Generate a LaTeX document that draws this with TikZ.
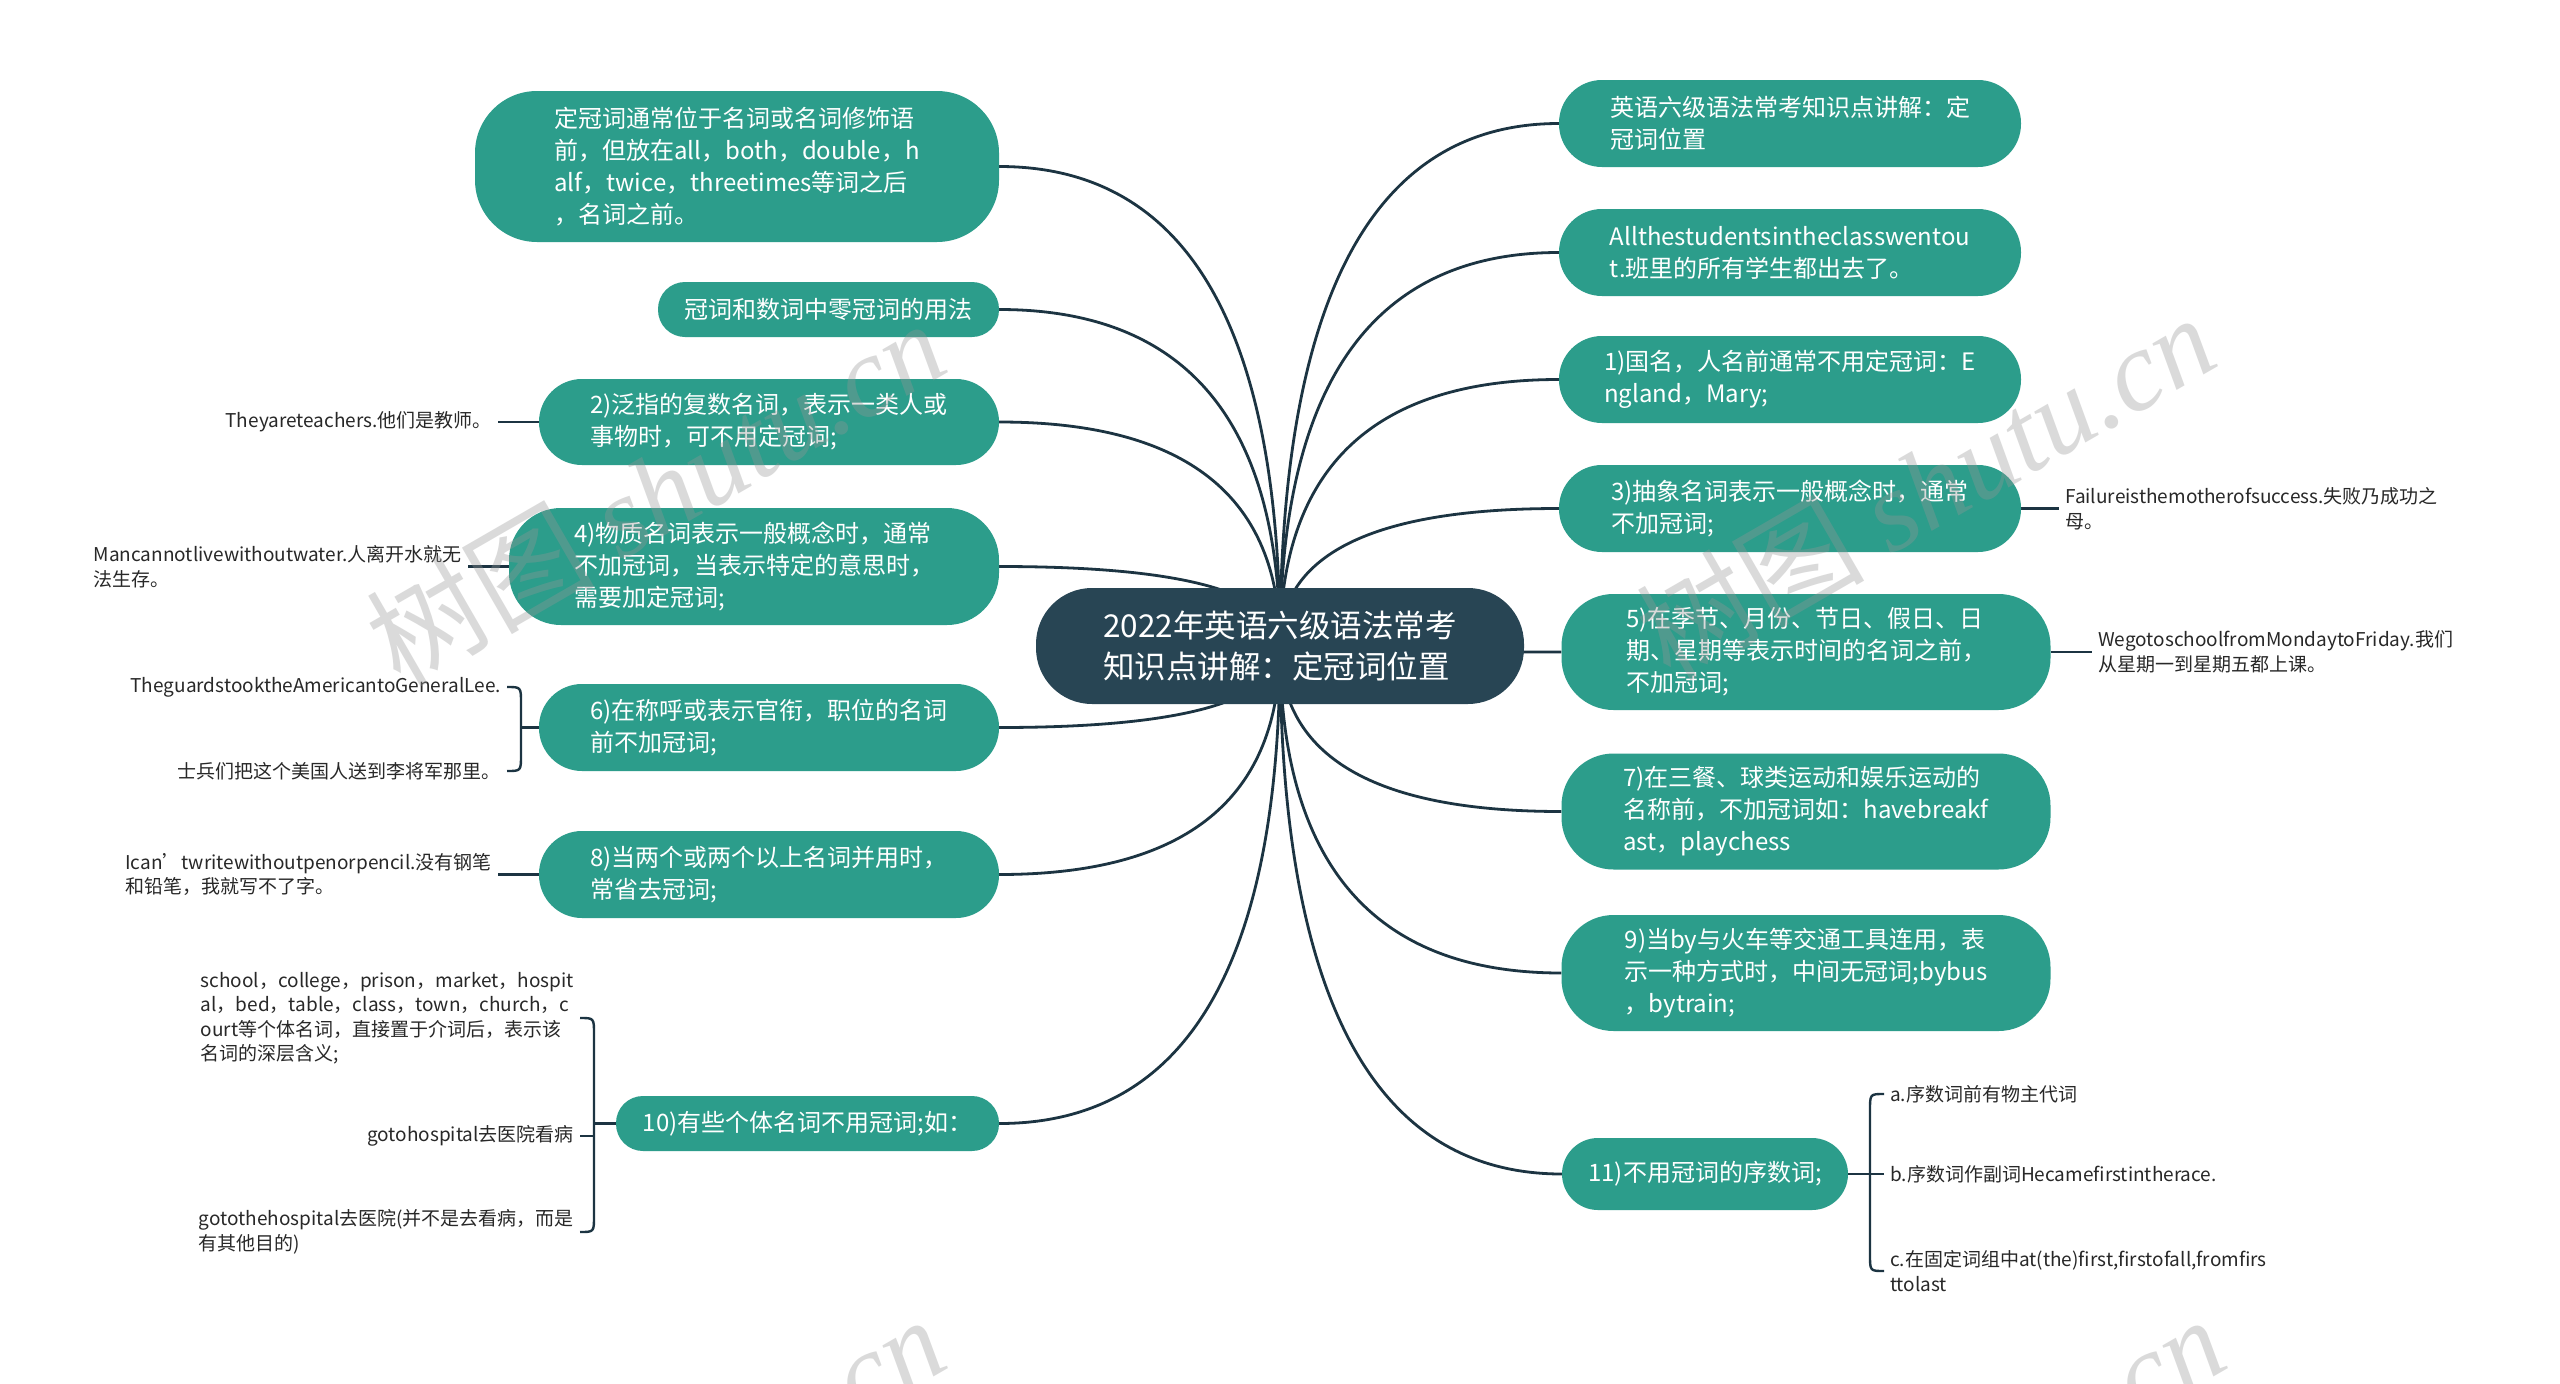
\documentclass[tikz,border=0pt]{standalone}
\usepackage{fontspec}
\setmainfont{Noto Sans CJK SC}
\newfontfamily\wmlatin{Liberation Serif}
\usetikzlibrary{calc,backgrounds}
\definecolor{teal1}{RGB}{44,157,139}
\definecolor{navy1}{RGB}{40,69,84}
\definecolor{line1}{RGB}{28,52,66}
\definecolor{leaftext}{RGB}{40,40,40}
\definecolor{wm}{RGB}{150,150,150}
\tikzset{
  topic/.style={fill=teal1, text=white, font=\fontsize{24}{32}\selectfont, align=left, inner sep=0pt},
  root/.style={fill=navy1, text=white, font=\fontsize{31.5}{41}\selectfont, align=left, inner sep=0pt,
    minimum width=488pt, minimum height=116pt, rounded corners=56pt},
  leaf/.style={text=leaftext, font=\fontsize{19}{24.5}\selectfont, align=left, inner xsep=6pt, inner ysep=2pt},
  conn/.style={draw=line1, line width=2.8pt},
  brk/.style={draw=line1, line width=2.4pt},
  wmark/.style={text=wm, opacity=0.35, rotate=30, font=\fontsize{114}{124}\selectfont},
}
\newcommand\wire[2]{\draw[conn] (#1.center) .. controls ($(#1.center)!0.667!(#1.center |- #2)$) and ($(#2)!0.667!(#1.center |- #2)$) .. (#2);}
\begin{document}
\begin{tikzpicture}[x=1pt,y=-1pt]
\useasboundingbox (0,0) rectangle (2560,1384);
% root
\node[root] (c) at (1280,646) {2022年英语六级语法常考\\知识点讲解：定冠词位置};
% right topics
\node[topic, minimum width=462pt, minimum height=87pt, rounded corners=43pt] (r1) at (1790,123.5) {英语六级语法常考知识点讲解：定\\冠词位置};
\node[topic, minimum width=462pt, minimum height=87pt, rounded corners=43pt] (r2) at (1790,252.5) {Allthestudentsintheclasswentou\\t.班里的所有学生都出去了。};
\node[topic, minimum width=462pt, minimum height=87pt, rounded corners=43pt] (r3) at (1790,379.5) {1)国名，人名前通常不用定冠词：E\\ngland，Mary;};
\node[topic, minimum width=462pt, minimum height=87pt, rounded corners=43pt] (r4) at (1790,508.5) {3)抽象名词表示一般概念时，通常\\不加冠词;};
\node[topic, minimum width=489pt, minimum height=116pt, rounded corners=52pt] (r5) at (1806,652) {5)在季节、月份、节日、假日、日\\期、星期等表示时间的名词之前，\\不加冠词;};
\node[topic, minimum width=489pt, minimum height=116pt, rounded corners=52pt] (r6) at (1806,811.5) {7)在三餐、球类运动和娱乐运动的\\名称前，不加冠词如：havebreakf\\ast，playchess};
\node[topic, minimum width=489pt, minimum height=116pt, rounded corners=52pt] (r7) at (1806,973) {9)当by与火车等交通工具连用，表\\示一种方式时，中间无冠词;bybus\\，bytrain;};
\node[topic, minimum width=286pt, minimum height=72pt, rounded corners=36pt] (r8) at (1705,1174) {11)不用冠词的序数词;};
% left topics
\node[topic, minimum width=524pt, minimum height=151pt, rounded corners=62pt] (l1) at (737,166.5) {定冠词通常位于名词或名词修饰语\\前，但放在all，both，double，h\\alf，twice，threetimes等词之后\\，名词之前。};
\node[topic, minimum width=341pt, minimum height=55pt, rounded corners=27pt] (l2) at (828.5,309.5) {冠词和数词中零冠词的用法};
\node[topic, minimum width=460pt, minimum height=86pt, rounded corners=43pt] (l3) at (769,422) {2)泛指的复数名词，表示一类人或\\事物时，可不用定冠词;};
\node[topic, minimum width=490pt, minimum height=117pt, rounded corners=52pt] (l4) at (754,566.5) {4)物质名词表示一般概念时，通常\\不加冠词，当表示特定的意思时，\\需要加定冠词;};
\node[topic, minimum width=460pt, minimum height=87pt, rounded corners=43pt] (l5) at (769,727.5) {6)在称呼或表示官衔，职位的名词\\前不加冠词;};
\node[topic, minimum width=460pt, minimum height=87pt, rounded corners=43pt] (l6) at (769,874.5) {8)当两个或两个以上名词并用时，\\常省去冠词;};
\node[topic, minimum width=383pt, minimum height=55pt, rounded corners=27pt] (l7) at (807.5,1123.5) {10)有些个体名词不用冠词;如：};
% leaves right
\node[leaf, anchor=west] (f) at (2059,508.5) {Failureisthemotherofsuccess.失败乃成功之\\母。};
\node[leaf, anchor=west] (w) at (2092,652) {WegotoschoolfromMondaytoFriday.我们\\从星期一到星期五都上课。};
\node[leaf, anchor=west] (a) at (1884,1094) {a.序数词前有物主代词};
\node[leaf, anchor=west] (b) at (1884,1174) {b.序数词作副词Hecamefirstintherace.};
\node[leaf, anchor=west] (cc) at (1884,1271) {c.在固定词组中at(the)first,firstofall,fromfirs\\ttolast};
\coordinate (bk8) at (1870,1174);
% leaves left
\node[leaf, anchor=east] (t) at (498,422) {Theyareteachers.他们是教师。};
\node[leaf, anchor=east] (m) at (468,566.5) {Mancannotlivewithoutwater.人离开水就无\\法生存。};
\node[leaf, anchor=east] (g1) at (507,687) {TheguardstooktheAmericantoGeneralLee.};
\node[leaf, anchor=east] (g2) at (507,771) {士兵们把这个美国人送到李将军那里。};
\coordinate (bk5) at (521,727.5);
\node[leaf, anchor=east] (i) at (498,874.5) {Ican’twritewithoutpenorpencil.没有钢笔\\和铅笔，我就写不了字。};
\node[leaf, anchor=east] (s) at (580,1018) {school，college，prison，market，hospit\\al，bed，table，class，town，church，c\\ourt等个体名词，直接置于介词后，表示该\\名词的深层含义;};
\node[leaf, anchor=east] (h1) at (580,1136) {gotohospital去医院看病};
\node[leaf, anchor=east] (h2) at (580,1232) {gotothehospital去医院(并不是去看病，而是\\有其他目的)};
\coordinate (bk7) at (594,1123.5);
% connectors
\begin{scope}[on background layer]
\fill[white] (0,0) rectangle (2560,1384);
\wire{c}{r1.west}
\wire{c}{r2.west}
\wire{c}{r3.west}
\wire{c}{r4.west}
\wire{c}{r5.west}
\wire{c}{r6.west}
\wire{c}{r7.west}
\wire{c}{r8.west}
\wire{c}{l1.east}
\wire{c}{l2.east}
\wire{c}{l3.east}
\wire{c}{l4.east}
\wire{c}{l5.east}
\wire{c}{l6.east}
\wire{c}{l7.east}
\draw[conn] (r4.east) -- (f.west);
\draw[conn] (r5.east) -- (w.west);
\draw[conn] (l3.west) -- (t.east);
\draw[conn] (l4.west) -- (m.east);
\draw[conn] (l6.west) -- (i.east);
% bracket for l5
\draw[brk] (l5.west) -- (bk5);
\draw[brk] (g1.east) .. controls (g1.east -| bk5) .. ($(g1.east -| bk5)+(0,16)$) -- ($(g2.east -| bk5)+(0,-16)$) .. controls (g2.east -| bk5) .. (g2.east);
% bracket for l7
\draw[brk] (l7.west) -- (bk7);
\draw[brk] (s.east) .. controls (s.east -| bk7) .. ($(s.east -| bk7)+(0,16)$) -- ($(h2.east -| bk7)+(0,-16)$) .. controls (h2.east -| bk7) .. (h2.east);
\draw[brk] (h1.east) -- (h1.east -| bk7);
% bracket for r8
\draw[brk] (r8.east) -- (bk8);
\draw[brk] (a.west) .. controls (a.west -| bk8) .. ($(a.west -| bk8)+(0,16)$) -- ($(cc.west -| bk8)+(0,-16)$) .. controls (cc.west -| bk8) .. (cc.west);
\draw[brk] (b.west) -- (b.west -| bk8);
\end{scope}
% watermarks
\begin{scope}
\clip (0,0) rectangle (2560,1384);
\node[wmark] (wm1) at (655,492) {树图 {\wmlatin\itshape shutu.cn}};
\node[wmark] (wm2) at (1925,486) {树图 {\wmlatin\itshape shutu.cn}};
\node[wmark] (wm3) at (655,1488) {树图 {\wmlatin\itshape shutu.cn}};
\node[wmark] (wm4) at (1935,1488) {树图 {\wmlatin\itshape shutu.cn}};
\end{scope}
\end{tikzpicture}
\end{document}
